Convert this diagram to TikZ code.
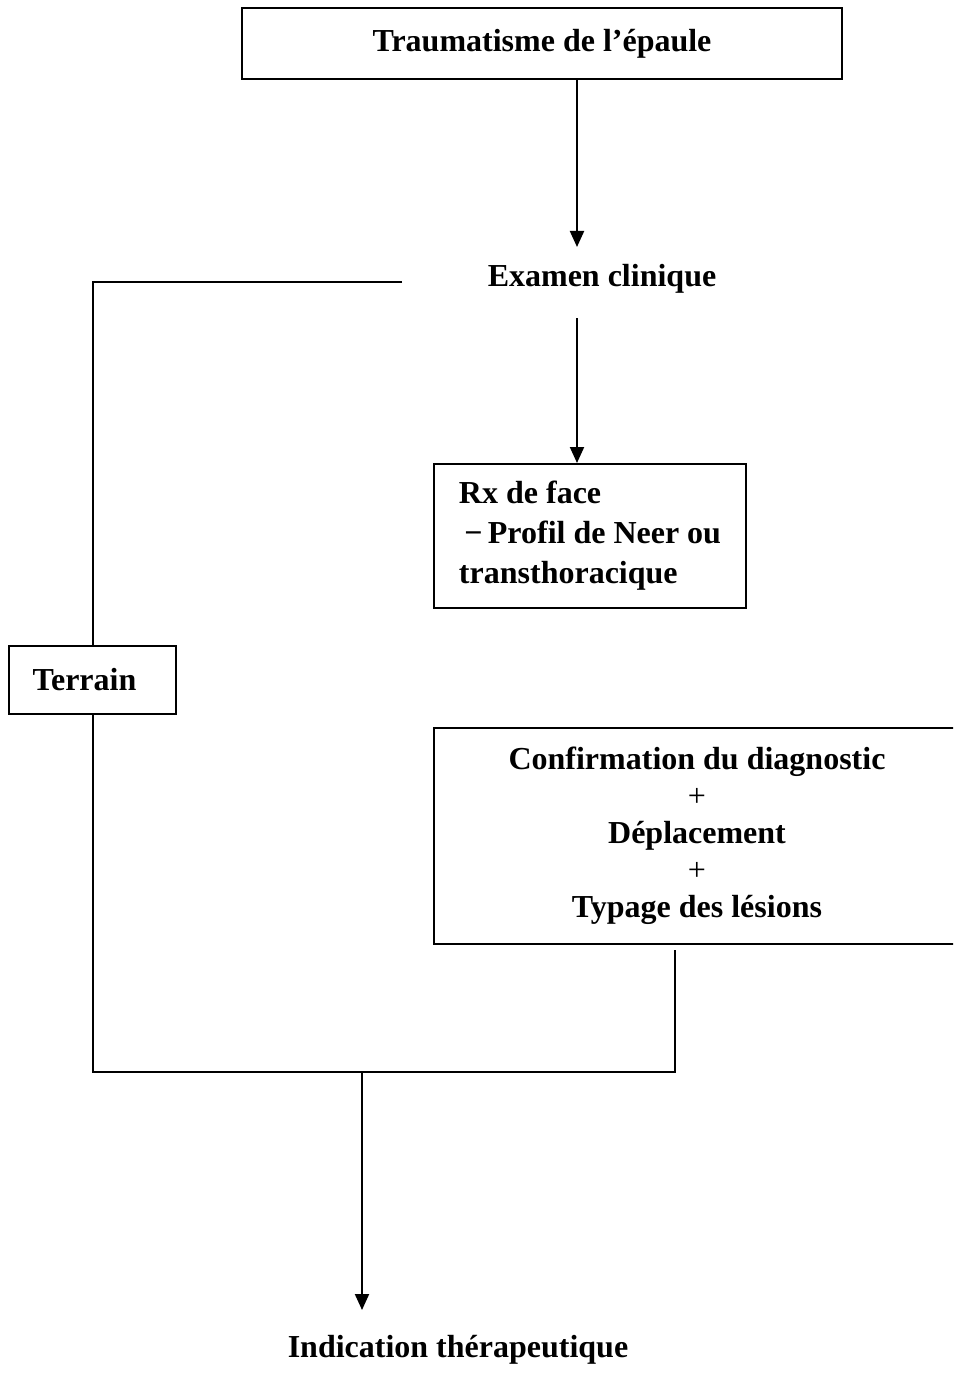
\documentclass[tikz,border=0pt]{standalone}
\usepackage{fontspec}
\setmainfont{Liberation Serif}
\usetikzlibrary{arrows.meta}
\begin{document}
\begin{tikzpicture}[x=1pt,y=-1pt]

  \tikzstyle{box} = [draw, line width=2, inner sep=0, font=\fontsize{32}{40}\selectfont\bfseries]
  \tikzstyle{label} = [inner sep=14, font=\fontsize{32}{40}\selectfont\bfseries]
  \tikzstyle{arr} = [line width=2, -{Triangle[width=14pt,length=16pt]}]

  \clip (0,0) rectangle (953,1380);

  \node[box, minimum width=600, minimum height=71] (trauma) at (542,43.5) {Traumatisme de l'épaule};
  \node[label] (examen) at (602,279) {Examen clinique};
  \node[box, minimum width=312, minimum height=144, align=left] (rx) at (590,536)
    {Rx de face\\ \,−\,Profil de Neer ou\\transthoracique};
  \node[box, minimum width=167, minimum height=68] (terrain) at (92.5,680) {\hspace*{-16pt}Terrain};
  \node[box, minimum width=526, minimum height=216, align=center,
        font=\fontsize{32}{37}\selectfont\bfseries] (confirm) at (697,836)
    {Confirmation du diagnostic\\ \textmd{+}\\ Déplacement\\ \textmd{+}\\ Typage des lésions};
  \node[label] (indication) at (458,1350) {Indication thérapeutique};

  \coordinate (axis) at (577,0);
  \coordinate (exleft) at (402,282);
  \coordinate (confout) at (675,950);
  \coordinate (join) at (362,1072);
  \coordinate (indarrow) at (362,1310);

  \draw[arr] (trauma.south -| axis) -- (577,247);
  \draw[arr] (577,318) -- (rx.north -| axis);
  \draw[line width=2] (exleft) -| (terrain.north);
  \draw[line width=2] (terrain.south) |- (join) -| (confout);
  \draw[arr] (join) -- (indarrow);

\end{tikzpicture}
\end{document}
